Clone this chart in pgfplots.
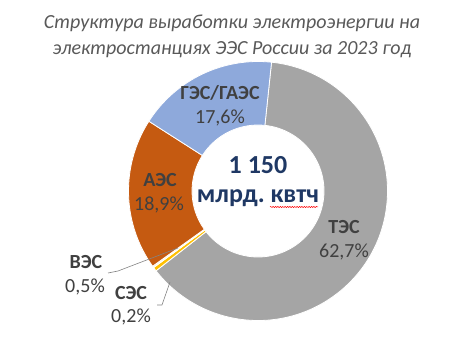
\documentclass[border=0pt]{standalone}
\usepackage{pgfplots}
\usepackage{pgfplotstable}
\pgfplotsset{compat=1.18}
\usepackage{fontspec}
\setmainfont{Carlito}
\usetikzlibrary{calc,decorations.pathmorphing}
\definecolor{tes}{HTML}{A5A5A5}
\definecolor{ves}{HTML}{FFC000}
\definecolor{ses}{HTML}{FFF2CC}
\definecolor{aes}{HTML}{C55A11}
\definecolor{ges}{HTML}{8EA9DB}
\definecolor{titlec}{HTML}{595959}
\definecolor{labc}{HTML}{404040}
\definecolor{navy}{HTML}{1F3864}

\pgfplotstableread{
source value
TES 62.7
VES 0.5
SES 0.2
AES 18.9
GES 17.6
}\shares

\begin{document}
\frenchspacing
\begin{tikzpicture}
\pgfplotstablegetelem{0}{value}\of\shares \let\vA\pgfplotsretval
\pgfplotstablegetelem{1}{value}\of\shares \let\vB\pgfplotsretval
\pgfplotstablegetelem{2}{value}\of\shares \let\vC\pgfplotsretval
\pgfplotstablegetelem{3}{value}\of\shares \let\vD\pgfplotsretval
\pgfplotstablegetelem{4}{value}\of\shares \let\vE\pgfplotsretval
\pgfmathsetmacro\k{360/(\vA+\vB+\vC+\vD+\vE)}
\pgfmathsetmacro\aA{84}
\pgfmathsetmacro\aB{\aA-\vA*\k}
\pgfmathsetmacro\aC{\aB-\vB*\k}
\pgfmathsetmacro\aD{\aC-\vC*\k}
\pgfmathsetmacro\aE{\aD-\vD*\k}
\pgfmathsetmacro\aF{\aE-\vE*\k}
\newcommand\sector[3]{%
  \fill[#1,draw=white,line width=0.8bp]
    ($(axis cs:258,169)+(#2:129.5bp)$) arc[start angle=#2,end angle=#3,radius=129.5bp]
    -- ($(axis cs:258,169)+(#3:66bp)$) arc[start angle=#3,end angle=#2,radius=66bp] -- cycle;}
\path[use as bounding box] (0,0) rectangle (474bp,360bp);
\begin{axis}[at={(0,0)},anchor=south west,scale only axis,
  width=474bp,height=360bp,xmin=0,xmax=474,ymin=0,ymax=360,
  hide axis,clip=false]
\sector{tes}{\aA}{\aB}
\sector{ves}{\aB}{\aC}
\sector{ses}{\aC}{\aD}
\sector{aes}{\aD}{\aE}
\sector{ges}{\aE}{\aF}
% title
\node[text=titlec,font=\fontsize{20bp}{24bp}\selectfont\itshape] at (axis cs:232,337) {Структура выработки электроэнергии на};
\node[text=titlec,font=\fontsize{20bp}{24bp}\selectfont\itshape] at (axis cs:232,310) {электростанциях ЭЭС России за 2023 год};
% labels
\node[text=labc,font=\fontsize{20bp}{24bp}\selectfont\bfseries] at (axis cs:220,267) {ГЭС/ГАЭС};
\node[text=labc,font=\fontsize{20bp}{24bp}\selectfont] at (axis cs:220,242) {17,6\%};
\node[text=labc,font=\fontsize{20bp}{24bp}\selectfont\bfseries] at (axis cs:160,180) {АЭС};
\node[text=labc,font=\fontsize{20bp}{24bp}\selectfont] at (axis cs:159,155) {18,9\%};
\node[text=labc,font=\fontsize{20bp}{24bp}\selectfont\bfseries] at (axis cs:344,133) {ТЭС};
\node[text=labc,font=\fontsize{20bp}{24bp}\selectfont] at (axis cs:344,108) {62,7\%};
\node[text=labc,font=\fontsize{20bp}{24bp}\selectfont\bfseries] at (axis cs:86,98) {ВЭС};
\node[text=labc,font=\fontsize{20bp}{24bp}\selectfont] at (axis cs:85,73) {0,5\%};
\node[text=labc,font=\fontsize{20bp}{24bp}\selectfont\bfseries] at (axis cs:131,67) {СЭС};
\node[text=labc,font=\fontsize{20bp}{24bp}\selectfont] at (axis cs:131,43) {0,2\%};
% leader lines
\draw[tes!80!black,line width=0.6bp] (axis cs:108,87) -- (axis cs:118,89) -- (axis cs:178,112);
\draw[tes!80!black,line width=0.6bp] (axis cs:157,55) -- (axis cs:162,55) -- (axis cs:170,78);
% centre
\node[text=navy,font=\fontsize{26bp}{30bp}\selectfont\bfseries] at (axis cs:258,195) {1 150};
\node[text=navy,font=\fontsize{26bp}{30bp}\selectfont\bfseries] at (axis cs:258,162) {млрд. квтч};
\draw[red,line width=0.5bp,decorate,decoration={snake,amplitude=0.6bp,segment length=2.4bp}] (axis cs:270,153) -- (axis cs:318,153);
\end{axis}
\end{tikzpicture}
\end{document}
